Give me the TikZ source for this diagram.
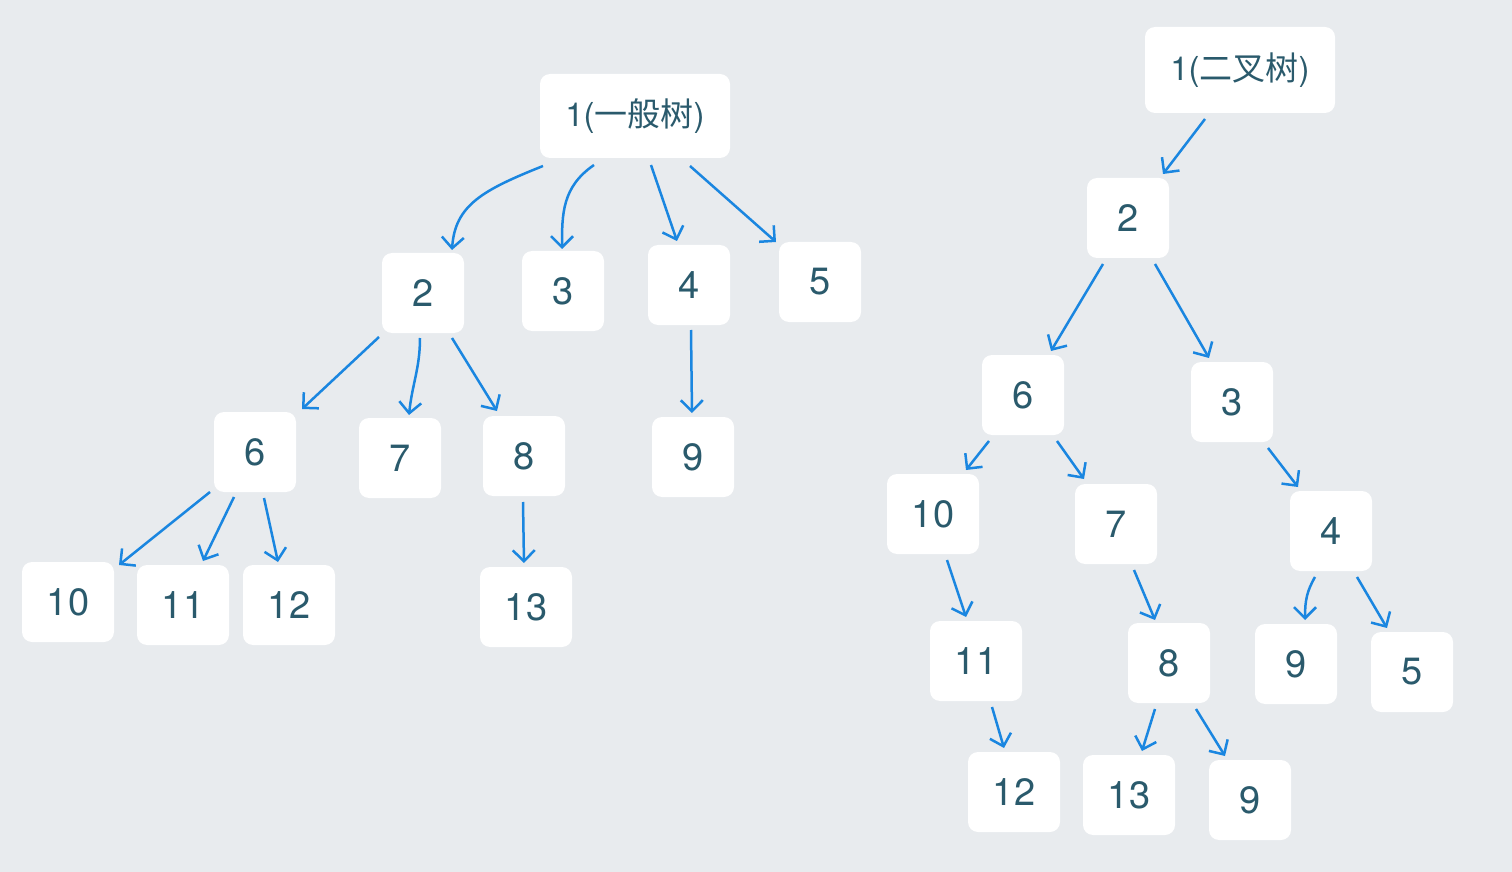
\documentclass[tikz,border=0pt]{standalone}
\usepackage{fontspec}
\setmainfont{TeX Gyre Heros}
\newfontfamily\cjk{Noto Sans CJK SC}
\usetikzlibrary{arrows.meta,calc}
\definecolor{bgc}{HTML}{E8EBEE}
\definecolor{txtc}{HTML}{2A5A6C}
\definecolor{arrc}{HTML}{1A86E0}
\begin{document}
\begin{tikzpicture}[x=0.5pt,y=-0.5pt,
  box/.style={fill=white,rounded corners=5pt,minimum width=41pt,minimum height=40pt,
    inner sep=0pt,text=txtc,font=\fontsize{19}{19}\selectfont},
  wbox/.style={box,minimum width=46pt},
  rbox/.style={box,minimum width=95pt,minimum height=42pt,font=\fontsize{16.5}{16.5}\selectfont},
  arr/.style={draw=arrc,line width=1.25pt,-{Straight Barb[length=5.5pt,width=11pt,line width=1.25pt]}}]
\fill[bgc] (0,0) rectangle (1512,872);
\useasboundingbox (0,0) rectangle (1512,872);
% left tree
\node[rbox] (L1) at (635,116) {1({\cjk 一般树})};
\node[box] (L2) at (423,293) {2};
\node[box] (L3) at (563,291) {3};
\node[box] (L4) at (689,285) {4};
\node[box] (L5) at (820,282) {5};
\node[box] (L6) at (255,452) {6};
\node[box] (L7) at (400,458) {7};
\node[box] (L8) at (524,456) {8};
\node[box] (L9) at (693,457) {9};
\node[wbox] (L10) at (68,602) {10};
\node[wbox] (L11) at (183,605) {11};
\node[wbox] (L12) at (289,605) {12};
\node[wbox] (L13) at (526,607) {13};
\draw[arr] ($(L1)+(-92,50)$) .. controls +(-60,24) and +(3,-45) .. ($(L2)+(29,-43)$);
\draw[arr] ($(L1)+(-41,49)$) .. controls +(-32,22) and +(0,-35) .. ($(L3)+(-1,-42)$);
\draw[arr] ($(L1)+(16,49)$) -- ($(L4)+(-12,-44)$);
\draw[arr] ($(L1)+(55,50)$) -- ($(L5)+(-44,-40)$);
\draw[arr] ($(L2)+(-44,44)$) -- ($(L6)+(47,-43)$);
\draw[arr] ($(L2)+(-3,45)$) .. controls +(0,30) and +(3,-30) .. ($(L7)+(9,-43)$);
\draw[arr] ($(L2)+(29,45)$) -- ($(L8)+(-27,-45)$);
\draw[arr] ($(L4)+(2,45)$) -- ($(L9)+(-1,-44)$);
\draw[arr] ($(L6)+(-45,40)$) -- ($(L10)+(51,-37)$);
\draw[arr] ($(L6)+(-21,45)$) -- ($(L11)+(20,-44)$);
\draw[arr] ($(L6)+(9,46)$) -- ($(L12)+(-11,-43)$);
\draw[arr] ($(L8)+(-1,46)$) -- ($(L13)+(-2,-44)$);
% right tree
\node[rbox,minimum height=43pt] (R1) at (1240,70) {1({\cjk 二叉树})};
\node[box] (R2) at (1128,218) {2};
\node[box] (R6) at (1023,395) {6};
\node[box] (R3) at (1232,402) {3};
\node[wbox] (R10) at (933,514) {10};
\node[box] (R7) at (1116,524) {7};
\node[box] (R4) at (1331,531) {4};
\node[wbox] (R11) at (976,661) {11};
\node[box] (R8) at (1169,663) {8};
\node[box] (R9) at (1296,664) {9};
\node[box] (R5) at (1412,672) {5};
\node[wbox] (R12) at (1014,792) {12};
\node[wbox] (R13) at (1129,795) {13};
\node[box] (R9b) at (1250,800) {9};
\draw[arr] ($(R1)+(-35,49)$) -- ($(R2)+(35,-44)$);
\draw[arr] ($(R2)+(-25,46)$) -- ($(R6)+(28,-44)$);
\draw[arr] ($(R2)+(27,46)$) -- ($(R3)+(-23,-44)$);
\draw[arr] ($(R6)+(-34,46)$) -- ($(R10)+(33,-44)$);
\draw[arr] ($(R6)+(34,46)$) -- ($(R7)+(-32,-45)$);
\draw[arr] ($(R3)+(36,46)$) -- ($(R4)+(-33,-44)$);
\draw[arr] ($(R10)+(14,46)$) -- ($(R11)+(-10,-44)$);
\draw[arr] ($(R7)+(18,46)$) -- ($(R8)+(-14,-43)$);
\draw[arr] ($(R4)+(-16,46)$) .. controls +(-8,14) and +(0,-20) .. ($(R9)+(9,-44)$);
\draw[arr] ($(R4)+(26,46)$) -- ($(R5)+(-25,-44)$);
\draw[arr] ($(R11)+(16,46)$) -- ($(R12)+(-10,-44)$);
\draw[arr] ($(R8)+(-14,46)$) -- ($(R13)+(13,-44)$);
\draw[arr] ($(R8)+(27,46)$) -- ($(R9b)+(-25,-44)$);
\end{tikzpicture}
\end{document}
